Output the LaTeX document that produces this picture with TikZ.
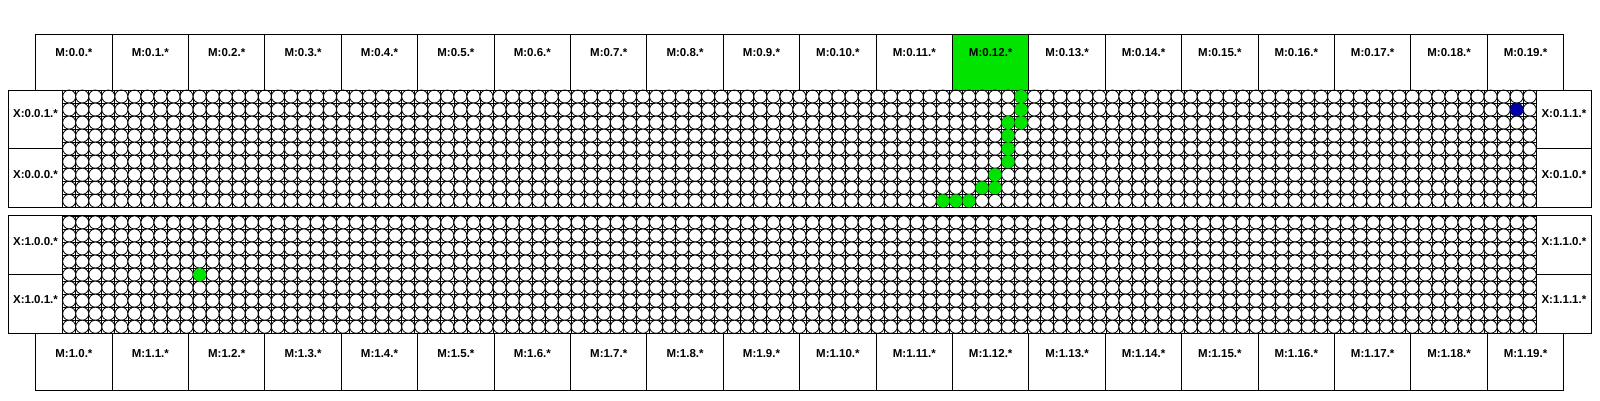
\documentclass[tikz,border=0pt]{standalone}
\usepackage{fontspec}
\setmainfont{Liberation Sans}
\definecolor{pathgreen}{RGB}{0,228,0}
\definecolor{hitblue}{RGB}{0,0,168}
\tikzset{
  boxline/.style={draw=black, line width=0.9pt},
  gridline/.style={draw=black, line width=0.8pt},
  site/.style={draw=black, fill=white, line width=0.8pt},
  hop/.style={fill=pathgreen},
  hit/.style={fill=hitblue},
  portlabel/.style={font=\fontsize{11.5}{12}\selectfont\bfseries, inner sep=0pt},
}
\def\pitch{13.04}
\def\gx{62.7}

\begin{document}
\begin{tikzpicture}[x=1pt, y=-1pt]
  \useasboundingbox (0,0) rectangle (1600,400);
  % M boxes top and bottom
  \fill[pathgreen] ({35.7+12*76.4},34) rectangle ++(76.4,56);
  \foreach \i in {0,...,19} {
    \draw[boxline] ({35.7+\i*76.4},34) rectangle ++(76.4,56);
    \node[portlabel] (mtop\i) at ({35.7+(\i+0.5)*76.4},52.3) {M:0.\i.*};
    \draw[boxline] ({35.7+\i*76.4},333.3) rectangle ++(76.4,56.7);
    \node[portlabel] (mbot\i) at ({35.7+(\i+0.5)*76.4},353.5) {M:1.\i.*};
  }
  % Panels with grid of sites
  \foreach \yy in {90,215.9} {
    \foreach \c in {0,...,113}
      \draw[gridline] ({\gx+\c*\pitch},\yy) -- ++(0,117.36);
    \foreach \r in {0,...,9}
      \draw[gridline] (\gx,{\yy+\r*\pitch}) -- ++(1473.5,0);
    \foreach \c in {0,...,112}
      \foreach \r in {0,...,8}
        \draw[site] ({\gx+(\c+0.5)*\pitch},{\yy+(\r+0.5)*\pitch}) circle[radius=6.52];
    % X boxes left and right
    \draw[boxline] (8.3,\yy) rectangle (1591.5,{\yy+117.36});
    \draw[boxline] (\gx,\yy) -- ++(0,117.36);
    \draw[boxline] (1536.2,\yy) -- ++(0,117.36);
    \draw[boxline] (8.3,{\yy+58.68}) -- (\gx,{\yy+58.68});
    \draw[boxline] (1536.2,{\yy+58.68}) -- (1591.5,{\yy+58.68});
  }
  % Route
  \foreach \r/\c in {0/73,1/73,2/72,2/73,3/72,4/72,5/72,6/71,7/70,7/71,8/67,8/68,8/69}
    \fill[hop] ({\gx+(\c+0.5)*\pitch},{90+(\r+0.5)*\pitch}) circle[radius=6.5];
  \fill[hop] ({\gx+10.5*\pitch},{215.9+4.5*\pitch}) circle[radius=6.5];
  \fill[hit] ({\gx+111.5*\pitch},{90+1.5*\pitch}) circle[radius=6.5];
  % Labels of X boxes
  \node[portlabel] (x001) at (35.5,114) {X:0.0.1.*};
  \node[portlabel] (x000) at (35.5,175) {X:0.0.0.*};
  \node[portlabel] (x011) at (1563.9,114) {X:0.1.1.*};
  \node[portlabel] (x010) at (1563.9,175) {X:0.1.0.*};
  \node[portlabel] (x100) at (35.5,242) {X:1.0.0.*};
  \node[portlabel] (x101) at (35.5,300) {X:1.0.1.*};
  \node[portlabel] (x110) at (1563.9,242) {X:1.1.0.*};
  \node[portlabel] (x111) at (1563.9,300) {X:1.1.1.*};
\end{tikzpicture}
\end{document}
